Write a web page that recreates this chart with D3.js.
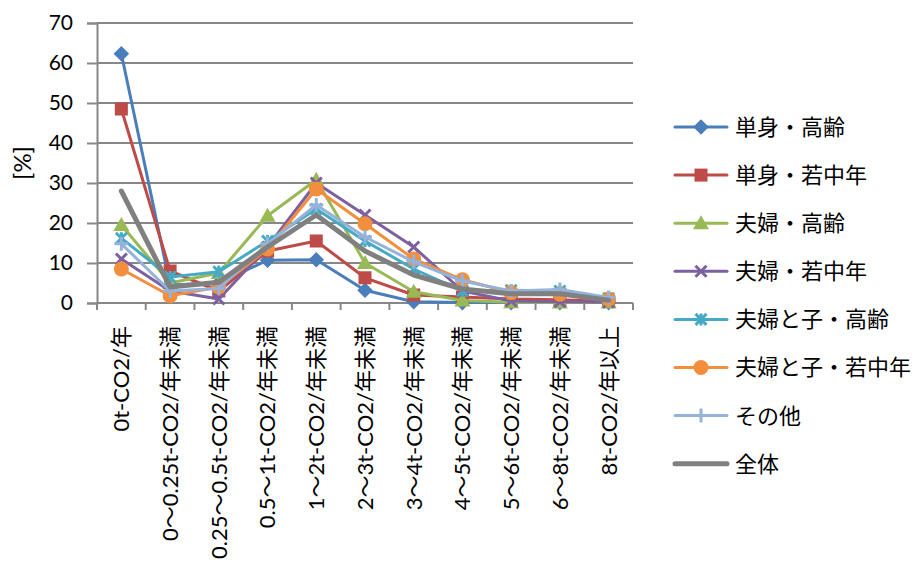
<!DOCTYPE html>
<html><head><meta charset="utf-8">
<script src="https://cdn.jsdelivr.net/npm/d3@7"></script>
<style>
html,body{margin:0;padding:0;background:#fff;}
svg{display:block;font-family:"Lato","Noto Sans CJK JP",sans-serif;}
</style></head>
<body>
<svg id="chart" width="923" height="579"></svg>
<script>
const categories = ["0t-CO2/年","0〜0.25t-CO2/年未満","0.25〜0.5t-CO2/年未満","0.5〜1t-CO2/年未満","1〜2t-CO2/年未満","2〜3t-CO2/年未満","3〜4t-CO2/年未満","4〜5t-CO2/年未満","5〜6t-CO2/年未満","6〜8t-CO2/年未満","8t-CO2/年以上"];
const seriesNames = ["単身・高齢","単身・若中年","夫婦・高齢","夫婦・若中年","夫婦と子・高齢","夫婦と子・若中年","その他","全体"];
const s1 = [62.3, 4.5, 5.0, 10.7, 10.8, 3.2, 0.3, 0.1, 0.1, 0.1, 0.1];
const s2 = [48.5, 8.0, 3.0, 13.0, 15.5, 6.3, 2.0, 1.5, 1.0, 0.8, 0.4];
const s3 = [19.5, 5.0, 7.5, 21.8, 30.8, 10.0, 2.8, 0.6, 0.2, 0.1, 0.1];
const s4 = [11.0, 3.0, 1.0, 14.0, 30.0, 22.0, 14.0, 3.0, 0.5, 0.3, 0.2];
const s5 = [16.2, 6.5, 7.8, 15.5, 23.5, 15.5, 8.5, 3.0, 3.2, 3.0, 1.2];
const s6 = [8.5, 1.8, 4.0, 13.5, 28.5, 19.8, 11.0, 5.8, 2.6, 2.2, 1.0];
const s7 = [14.8, 3.0, 3.6, 14.8, 24.5, 16.5, 10.3, 5.5, 3.0, 3.4, 1.4];
const s8 = [28.0, 4.0, 5.2, 14.0, 22.0, 13.0, 7.0, 3.5, 2.3, 2.3, 0.7];
const yTicks = [0,10,20,30,40,50,60,70];
const seriesData = [s1,s2,s3,s4,s5,s6,s7,s8];
const colors = ["#4A7EBB","#BE4B48","#98B954","#7D60A0","#46AAC5","#F28E3C","#94B2DA","#808080"];
const markerTypes = ["diamond","square","triangle","x","star","circle","plus","none"];

const svg = d3.select("#chart");
const L=97, R=633, T=23, B=303;
const x = d3.scaleBand().domain(categories).range([L,R]).padding(0);
const y = d3.scaleLinear().domain([0,70]).range([B,T]);

// gridlines
svg.append("g").selectAll("line").data(yTicks.filter(d=>d>0)).join("line")
  .attr("x1",L).attr("x2",R).attr("y1",d=>y(d)).attr("y2",d=>y(d))
  .attr("stroke","#878787").attr("stroke-width",2);

// y axis
const yAxis = svg.append("g").attr("transform",`translate(${L},0)`)
  .call(d3.axisLeft(y).tickValues(yTicks).tickSize(10).tickPadding(14));
yAxis.select(".domain").attr("stroke","#878787").attr("stroke-width",2);
yAxis.selectAll(".tick line").attr("stroke","#878787").attr("stroke-width",2);
yAxis.selectAll(".tick text").attr("font-size",21).attr("fill","#000").attr("font-family","Lato, sans-serif");

// x axis
const xAxis = svg.append("g").attr("transform",`translate(0,${B})`);
xAxis.append("line").attr("x1",L).attr("x2",R).attr("y1",0).attr("y2",0).attr("stroke","#878787").attr("stroke-width",2);
const bounds = categories.map(c=>x(c)).concat([R]);
xAxis.selectAll("line.tk").data(bounds).join("line").attr("class","tk")
  .attr("x1",d=>d).attr("x2",d=>d).attr("y1",0).attr("y2",7).attr("stroke","#878787").attr("stroke-width",2);
xAxis.selectAll("text").data(categories).join("text")
  .attr("transform",d=>`translate(${x(d)+x.bandwidth()/2},23) rotate(-90)`)
  .attr("text-anchor","end").attr("dy","0.36em").attr("font-size",22).attr("fill","#000")
  .text(d=>d);

// y title
svg.append("text").attr("transform","translate(22,163) rotate(-90)")
  .attr("text-anchor","middle").attr("dy","0.36em").attr("font-size",24).text("[%]");

function drawMarker(g, type, cx, cy, color){
  if(type==="diamond"){
    g.append("rect").attr("x",-5.5).attr("y",-5.5).attr("width",11).attr("height",11)
     .attr("transform",`translate(${cx},${cy}) rotate(45)`).attr("fill",color);
  } else if(type==="square"){
    g.append("rect").attr("x",cx-6.5).attr("y",cy-6.5).attr("width",13).attr("height",13).attr("fill",color);
  } else if(type==="triangle"){
    g.append("path").attr("d",`M${cx},${cy-8}L${cx+8},${cy+6}L${cx-8},${cy+6}Z`).attr("fill",color);
  } else if(type==="circle"){
    g.append("circle").attr("cx",cx).attr("cy",cy).attr("r",7.5).attr("fill",color);
  } else if(type==="x"){
    g.append("path").attr("d",`M${cx-5.5},${cy-5.5}L${cx+5.5},${cy+5.5}M${cx+5.5},${cy-5.5}L${cx-5.5},${cy+5.5}`)
     .attr("stroke",color).attr("stroke-width",3);
  } else if(type==="star"){
    g.append("path").attr("d",`M${cx-5.5},${cy-5.5}L${cx+5.5},${cy+5.5}M${cx+5.5},${cy-5.5}L${cx-5.5},${cy+5.5}M${cx},${cy-6}L${cx},${cy+6}`)
     .attr("stroke",color).attr("stroke-width",3);
  } else if(type==="plus"){
    g.append("path").attr("d",`M${cx-7},${cy}L${cx+7},${cy}M${cx},${cy-7}L${cx},${cy+7}`)
     .attr("stroke",color).attr("stroke-width",3);
  }
}

const line = d3.line().x((d,i)=>x(categories[i])+x.bandwidth()/2).y(d=>y(d));
seriesData.forEach((vals,si)=>{
  const g = svg.append("g");
  g.append("path").datum(vals).attr("d",line).attr("fill","none")
   .attr("stroke",colors[si]).attr("stroke-width",si===7?5:3).attr("stroke-linejoin","round").attr("stroke-linecap","round");
  vals.forEach((v,i)=>drawMarker(g, markerTypes[si], x(categories[i])+x.bandwidth()/2, y(v), colors[si]));
});

// legend
const lg = svg.append("g");
seriesNames.forEach((n,i)=>{
  const ly = 127 + i*48.1;
  lg.append("line").attr("x1",675).attr("x2",727).attr("y1",ly).attr("y2",ly)
    .attr("stroke",colors[i]).attr("stroke-width",i===7?5:3).attr("stroke-linecap","round");
  drawMarker(lg, markerTypes[i], 701, ly, colors[i]);
  lg.append("text").attr("x",735).attr("y",ly).attr("dy","0.36em").attr("font-size",22).text(n);
});
</script>
</body></html>
